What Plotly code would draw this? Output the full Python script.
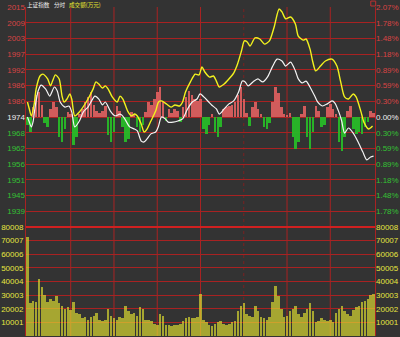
import plotly.graph_objects as go

PRE_CLOSE = 1974.0
STEP = 5.86  # index points per grid step (0.297%)

# ---- intraday index (white) ----
white_min = [0, 1.3, 2.7, 4, 5.3, 7.4, 9.4, 12.7, 15.4, 18.7, 20.7, 22.7, 26, 28.7, 30.7, 32.8, 36, 38.8,
             42, 44, 46.8, 49.5, 52, 54, 57.5, 60.8, 64, 65.5, 67.5, 70.9, 74.2, 76.2, 78.9, 80.9, 82.9,
             85.6, 88.9, 90.9, 92.9, 95.6, 97.6, 101, 104.3, 107.6, 111, 114.3, 117.6, 119.7, 122.3,
             125.7, 127.7, 131, 133, 136.4, 139.7, 143, 146.4, 149, 151, 153, 156.4, 159.8, 163.1, 166.4,
             169.8, 173.1, 176.5, 179, 182.5, 185.8, 187.8, 190.5, 193.2, 195.9, 199.2, 201.2, 204.5,
             207.9, 211.2, 213.2, 215.9, 217.9, 219.9, 222.6, 225.9, 229.3, 232.6, 235.3, 238, 240]
white_px = [1974.0, 1972.1, 1970.3, 1972.5, 1977.7, 1983.7, 1985.9, 1984.4, 1981.8, 1985.2, 1983.7, 1979.6,
            1977.7, 1978.1, 1975.9, 1970.3, 1972.5, 1975.9, 1977.7, 1979.6, 1981.8, 1980.7, 1978.5, 1979.6,
            1976.2, 1974.4, 1975.1, 1974.7, 1973.3, 1970.3, 1969.5, 1968.8, 1965.0, 1964.7, 1965.8, 1967.7,
            1968.4, 1970.6, 1974.0, 1973.3, 1972.1, 1972.1, 1972.5, 1973.3, 1977.0, 1979.6, 1980.7, 1982.6,
            1981.5, 1979.6, 1978.5, 1977.0, 1975.1, 1977.0, 1978.9, 1980.0, 1983.3, 1987.4, 1987.1, 1985.6,
            1987.1, 1988.2, 1987.1, 1988.9, 1992.7, 1995.6, 1994.9, 1993.0, 1994.5, 1991.2, 1988.2, 1986.7,
            1987.4, 1985.2, 1981.8, 1979.6, 1978.1, 1978.9, 1980.0, 1979.2, 1975.9, 1972.5, 1968.0, 1969.9,
            1968.0, 1964.7, 1960.9, 1958.0, 1959.1, 1959.4]

# ---- leading index (yellow) ----
yellow_min = [0, 1.3, 2.7, 4.7, 6, 8.7, 10.7, 14, 16, 17.4, 19.4, 22, 24, 25.4, 27.4, 29.4, 30.7, 32.8, 36,
              40.8, 45.5, 47.5, 49.5, 52, 54, 56, 58.8, 62.2, 64.2, 66.2, 69.5, 72.2, 74.2, 76.2, 78.9,
              80.9, 82.9, 85.6, 88.9, 90.9, 92.9, 96.3, 99.6, 102.3, 105.6, 107.6, 109.6, 113, 116.3, 119,
              121, 123, 126.3, 129, 131, 133, 136.4, 139.7, 143, 145.7, 148.4, 150.4, 152.4, 154.4, 157.8,
              161.1, 164.4, 167.8, 171.1, 174.5, 176.5, 179.1, 182.5, 185.8, 187.8, 191.2, 193.2, 195.9,
              197.9, 199.9, 203.2, 206.6, 211.2, 214.6, 217.2, 219.9, 222.6, 225.9, 227.9, 231.3, 233.3,
              236.6, 239.3]
yellow_px = [1979.6, 1977.0, 1974.4, 1978.9, 1984.4, 1989.3, 1990.0, 1988.2, 1985.6, 1987.4, 1989.7, 1988.2,
             1981.8, 1979.6, 1980.7, 1982.6, 1980.7, 1974.4, 1975.9, 1979.6, 1984.4, 1987.1, 1986.3, 1984.8,
             1985.6, 1984.4, 1981.5, 1979.6, 1981.8, 1980.7, 1976.2, 1974.4, 1975.1, 1974.4, 1971.4, 1968.4,
             1969.5, 1972.5, 1976.2, 1979.6, 1980.0, 1978.9, 1977.7, 1978.5, 1978.1, 1979.6, 1983.3, 1987.1,
             1990.0, 1989.7, 1992.7, 1990.8, 1988.9, 1989.3, 1987.4, 1985.2, 1986.3, 1988.2, 1990.4, 1993.8,
             1998.6, 2002.4, 2002.0, 2000.5, 2003.5, 2003.1, 2001.2, 2002.4, 2007.6, 2014.3, 2013.2, 2010.6,
             2011.3, 2008.7, 2004.2, 2002.7, 2003.1, 1999.4, 1994.5, 1991.2, 1993.0, 1994.9, 1995.6, 1993.0,
             1987.1, 1981.5, 1980.7, 1982.6, 1981.5, 1975.9, 1972.1, 1969.5, 1970.6]

# ---- buy/sell strength bars (red/green), every 2 minutes ----
bar_min = list(range(0, 241, 2))
strength = [-8, -15, 10, 22, 25, 12, -6, -10, 8, 15, 10, -20, -25, -12, 5, 3, -28, -20, 3, 8,
            15, 20, 25, 12, 6, 4, 6, 11, -18, -25, -15, 11, 6, -10, -25, -22, 5, 3, -10, -15,
            -8, 5, 15, 12, 18, 25, 30, 15, -4, 8, 4, 8, 6, -5, 10, 20, 26, 22, 18, 16,
            18, -12, -17, -8, 3, -15, -20, -10, 8, 10, 11, 12, 15, 22, 30, 18, 4, -9, 10, 15,
            8, 3, -10, -12, -6, 15, 30, 24, 10, 3, 2, 4, -20, -32, -25, 3, 11, -20, -32, -15,
            11, 6, -10, -8, 10, 13, 8, 3, -25, -34, -20, 6, 11, -12, -17, -15, -17, -10, -5, 6, 4]

# ---- turnover (万元), every 2 minutes ----
volume = [73000, 24000, 26000, 25000, 42000, 36000, 30000, 25000, 27000, 26000, 29000, 24000, 22000,
          20000, 21000, 19000, 25000, 17000, 16000, 13000, 14000, 12000, 14000, 15000, 17000, 12000,
          11000, 12000, 20000, 15000, 13000, 12000, 14000, 13000, 22000, 18000, 16000, 17000, 15000,
          21000, 20000, 12000, 12000, 11000, 9000, 8000, 16000, 15000, 8000, 8000, 7000, 8000, 8000,
          9000, 11000, 13000, 14000, 13000, 13000, 14000, 31000, 12000, 10000, 8000, 7000, 9000, 10000,
          11000, 9000, 8000, 9000, 10000, 11000, 18000, 22000, 24000, 16000, 15000, 14000, 22000, 18000,
          14000, 13000, 12000, 14000, 25000, 37000, 29000, 20000, 14000, 15000, 18000, 20000, 22000,
          16000, 14000, 17000, 20000, 24000, 18000, 10000, 11000, 13000, 12000, 11000, 12000, 10000,
          17000, 20000, 22000, 18000, 16000, 15000, 19000, 21000, 22000, 25000, 26000, 27000, 30000, 31000]

price_labels = ['1939', '1945', '1951', '1956', '1962', '1968', '1974', '1980', '1986', '1992', '1997',
                '2003', '2009', '2015']
pct_labels = ['1.78%', '1.48%', '1.18%', '0.89%', '0.59%', '0.30%', '0.00%', '0.30%', '0.59%', '0.89%',
              '1.18%', '1.48%', '1.78%', '2.07%']
vol_labels = ['10001', '20002', '30003', '40004', '50005', '60006', '70007', '80008']
vol_ticks = [10001, 20002, 30003, 40004, 50005, 60006, 70007, 80008]
grid_minutes = [30, 60, 90, 120, 150, 180, 210]

RED_T = '#d84444'
GREEN_T = '#34c034'
GRID = '#a82222'
BG = '#333333'

price_ticks = [PRE_CLOSE + k * STEP for k in range(-6, 8)]


def colored(labels, center):
    out = []
    for i, t in enumerate(labels):
        c = GREEN_T if i < center else ('#f0f0f0' if i == center else RED_T)
        out.append('<span style="color:%s">%s</span>' % (c, t))
    return out


fig = go.Figure()

fig.add_trace(go.Bar(x=bar_min, y=strength, xaxis='x', yaxis='y', width=1.75,
                     marker=dict(color=['rgba(222,96,96,0.92)' if v >= 0 else 'rgba(40,186,40,0.95)'
                                        for v in strength], line=dict(width=0)),
                     hoverinfo='skip'))
fig.add_trace(go.Scatter(x=yellow_min, y=yellow_px, xaxis='x', yaxis='y3', mode='lines',
                         line=dict(color='#f2f21e', width=1.4, shape='spline', smoothing=0.7),
                         hoverinfo='skip'))
fig.add_trace(go.Scatter(x=white_min, y=white_px, xaxis='x', yaxis='y3', mode='lines',
                         line=dict(color='#f4f4f4', width=1.2, shape='spline', smoothing=0.7),
                         hoverinfo='skip'))
# invisible carrier for the right-hand percentage axis
fig.add_trace(go.Scatter(x=[white_min[0]], y=[white_px[0]], xaxis='x', yaxis='y5', mode='lines',
                         line=dict(width=0), opacity=0, hoverinfo='skip'))
fig.add_trace(go.Bar(x=bar_min, y=volume, xaxis='x2', yaxis='y2', width=1.75,
                     marker=dict(color='rgba(226,226,48,0.66)', line=dict(width=0)),
                     hoverinfo='skip'))
fig.add_trace(go.Scatter(x=[bar_min[0]], y=[volume[0]], xaxis='x2', yaxis='y6', mode='lines',
                         line=dict(width=0), opacity=0, hoverinfo='skip'))

pr_range = [PRE_CLOSE - 7 * STEP - 0.02, PRE_CLOSE + 7 * STEP + 0.02]
tick_font = dict(family='Liberation Sans', size=8)
SPLIT = 109 / 329

fig.update_layout(
    width=400, height=337,
    margin=dict(l=19, r=22, t=7, b=1),
    paper_bgcolor=BG, plot_bgcolor=BG,
    showlegend=False, bargap=0, barmode='overlay',
    xaxis=dict(domain=[0, 1], anchor='y', range=[-1, 241], showticklabels=False, showgrid=False,
               zeroline=False, fixedrange=True),
    xaxis2=dict(domain=[0, 1], anchor='y2', range=[-1, 241], showticklabels=False, showgrid=False,
                zeroline=False, matches='x'),
    yaxis=dict(domain=[SPLIT, 1], range=[-110, 110], showticklabels=False, showgrid=False,
               zeroline=False, showline=True, linecolor=GRID, mirror=True),
    yaxis3=dict(overlaying='y', anchor='x', side='left', range=pr_range, tickmode='array',
                tickvals=price_ticks, ticktext=colored(price_labels, 6), tickfont=tick_font,
                showgrid=True, gridcolor=GRID, gridwidth=1, zeroline=False, ticks=''),
    yaxis5=dict(overlaying='y', anchor='x', side='right', range=pr_range, tickmode='array',
                tickvals=price_ticks, ticktext=colored(pct_labels, 6), tickfont=tick_font,
                showgrid=False, zeroline=False, ticks='', showticklabels=True),
    yaxis2=dict(domain=[0, SPLIT], anchor='x2', range=[0, 80009], tickmode='array', tickvals=vol_ticks,
                ticktext=vol_labels, tickfont=dict(family='Liberation Sans', size=8, color='#e6e640'),
                showgrid=True, gridcolor=GRID, gridwidth=1, zeroline=False, ticks='',
                showline=True, linecolor=GRID, mirror=True),
    yaxis6=dict(overlaying='y2', anchor='x2', side='right', range=[0, 80009], tickmode='array',
                tickvals=vol_ticks, ticktext=vol_labels,
                tickfont=dict(family='Liberation Sans', size=8, color='#e6e640'),
                showgrid=False, zeroline=False, ticks='', showticklabels=True),
)

shapes = []
for m in grid_minutes:
    shapes.append(dict(type='line', xref='x', yref='paper', x0=m, x1=m, y0=0, y1=1,
                       line=dict(color=GRID if m != 150 else '#7a2222', width=1,
                                 dash='solid' if m != 150 else 'dot'),
                       layer='below'))
shapes.append(dict(type='line', xref='paper', yref='paper', x0=0, x1=1, y0=SPLIT, y1=SPLIT,
                   line=dict(color='#d02020', width=2), layer='below'))
shapes.append(dict(type='rect', xref='paper', yref='paper', x0=0.988, x1=1.002, y0=1.003, y1=1.018,
                   line=dict(color='#c03030', width=1)))
fig.update_layout(shapes=shapes)

cjk = 'Noto Sans CJK SC'
fig.add_annotation(xref='paper', yref='paper', x=0.0, y=1.021, xanchor='left', yanchor='top',
                   text='上证指数', showarrow=False, borderpad=0,
                   font=dict(family=cjk, size=5.6, color='#f0f0f0'))
fig.add_annotation(xref='paper', yref='paper', x=0.078, y=1.021, xanchor='left', yanchor='top',
                   text='分时', showarrow=False, borderpad=0,
                   font=dict(family=cjk, size=5.6, color='#f0f0f0'))
fig.add_annotation(xref='paper', yref='paper', x=0.12, y=1.021, xanchor='left', yanchor='top',
                   text='成交额(万元)', showarrow=False, borderpad=0,
                   font=dict(family=cjk, size=5.6, color='#e8e830'))

fig.write_html('out.html')
